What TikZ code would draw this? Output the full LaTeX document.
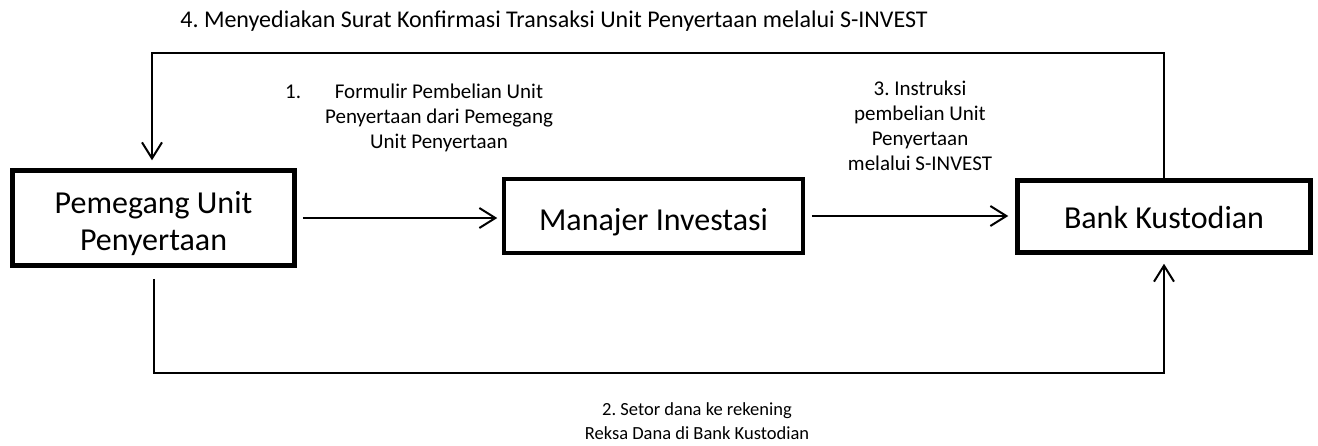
\documentclass[tikz,border=0pt]{standalone}
\usepackage{fontspec}
\setmainfont{Carlito}
\frenchspacing
\usetikzlibrary{arrows.meta}
\begin{document}
\begin{tikzpicture}[x=1pt,y=-1pt,
  box/.style={draw, line width=4.5pt, minimum width=282pt, minimum height=95pt, inner sep=0pt, align=center, text depth=0pt, font=\fontsize{32}{37}\selectfont},
  conn/.style={line width=2pt},
  tip/.style={-{Straight Barb[length=16pt,width=20pt]}},
  lab/.style={font=\fontsize{21}{25}\selectfont, align=center, inner sep=0pt}]
\useasboundingbox (0,0) rectangle (1318,445);
\node[box, text height=64pt] (pu) at (153.5,218) {Pemegang Unit\\Penyertaan};
\node[box, text height=28pt, line width=3.5pt, minimum width=299pt, minimum height=74pt] (mi) at (653.5,216) {Manajer Investasi};
\node[box, text height=23pt, minimum width=293pt, minimum height=72pt] (bk) at (1164,216.5) {Bank Kustodian};
\coordinate (t2) at (152,53);
\coordinate (b1) at (153,373);
\draw[conn,tip,shorten <=6pt,shorten >=5pt] (pu.east) -- (pu.east -| mi.west);
\draw[conn,tip,shorten <=7pt,shorten >=7pt] (mi.east) -- (mi.east -| bk.west);
\draw[conn,tip,shorten >=8pt] (bk.north) |- (t2) -- (t2 |- pu.north);
\draw[conn,tip,shorten <=11pt,shorten >=9pt] (pu.south) -- (pu.south |- b1) -| (bk.south);
\node[lab, font=\fontsize{24}{28}\selectfont, anchor=base] (l4) at (554,27) {4. Menyediakan Surat Konfirmasi Transaksi Unit Penyertaan melalui S-INVEST};
\node[lab, anchor=base west] (n1) at (285,98) {1.};
\node[lab, anchor=base] (l1) at (439,148) {Formulir Pembelian Unit\\Penyertaan dari Pemegang\\Unit Penyertaan};
\node[lab, anchor=base] (l3) at (920,170) {3. Instruksi\\pembelian Unit\\Penyertaan\\melalui S-INVEST};
\node[lab, font=\fontsize{18.5}{24}\selectfont, anchor=base] (l2) at (697,439) {2. Setor dana ke rekening\\Reksa Dana di Bank Kustodian};
\end{tikzpicture}
\end{document}
